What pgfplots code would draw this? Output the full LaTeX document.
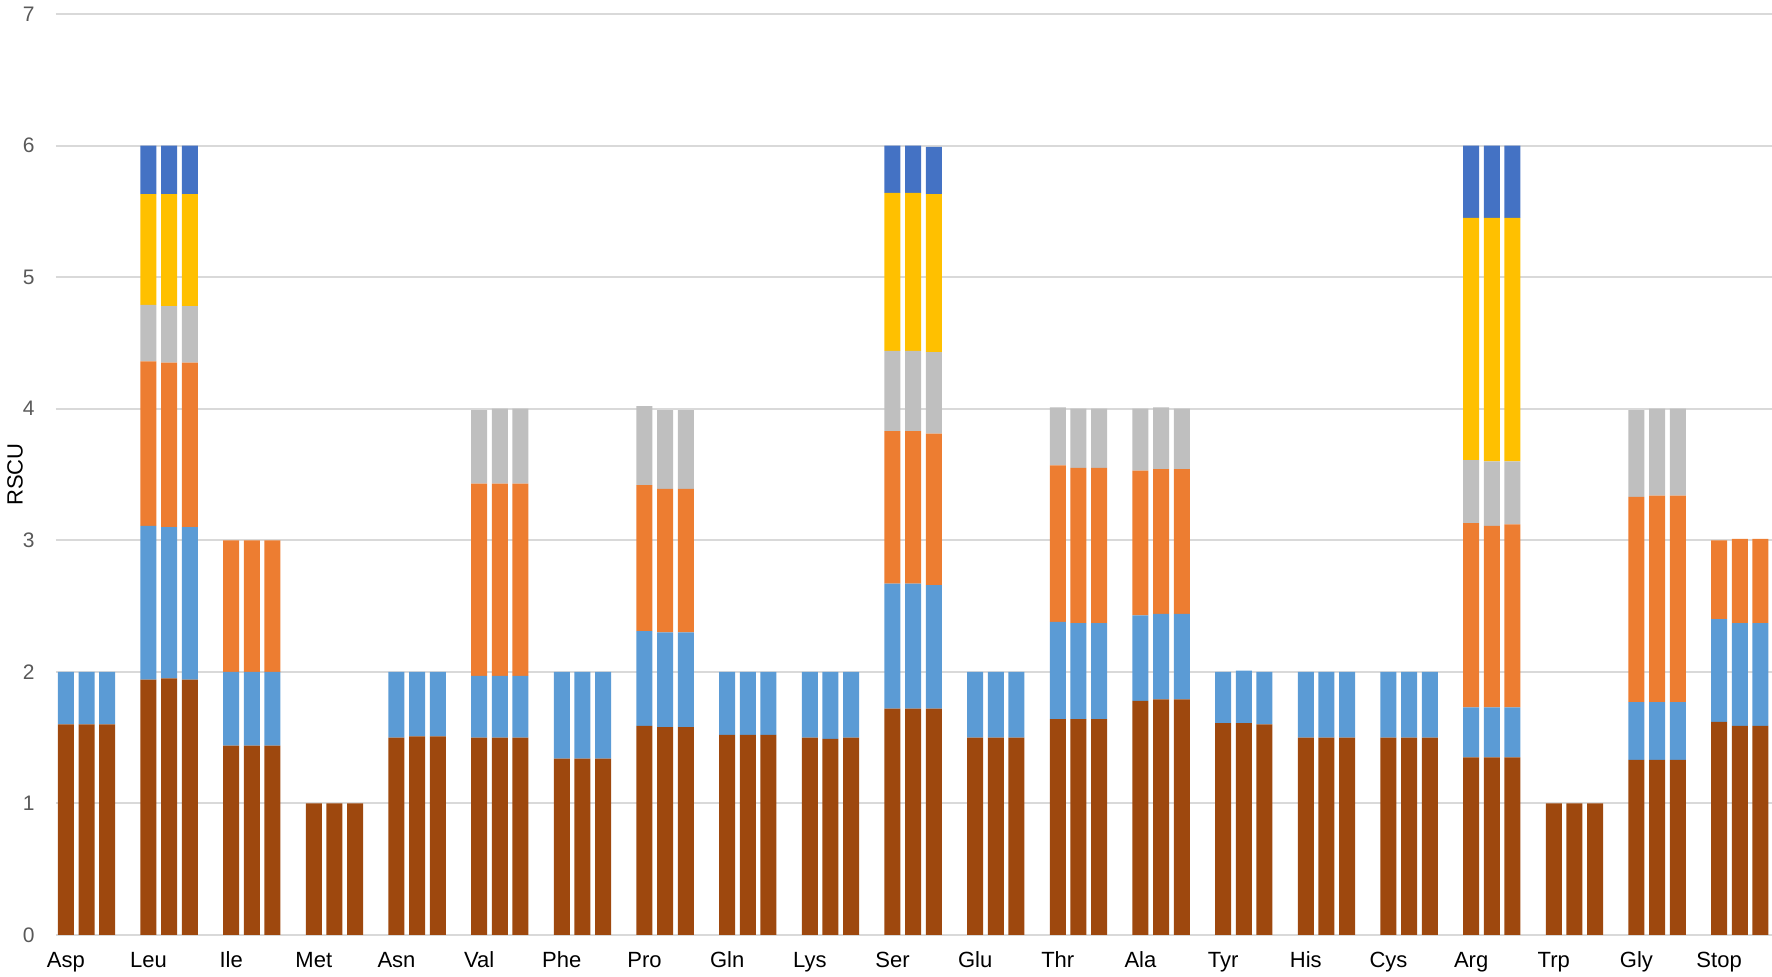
\documentclass[border=0pt]{standalone}
\usepackage{pgfplots}
\pgfplotsset{compat=1.18}
\usepackage{pgfplotstable}
\usepackage{fontspec}
\setmainfont{Liberation Sans}
\definecolor{cbrown}{HTML}{9E480E}
\definecolor{clblue}{HTML}{5B9BD5}
\definecolor{corange}{HTML}{ED7D31}
\definecolor{cgray}{HTML}{BFBFBF}
\definecolor{cyellow}{HTML}{FFC000}
\definecolor{cdblue}{HTML}{4472C4}
\definecolor{gridgray}{HTML}{D9D9D9}
\definecolor{tickgray}{HTML}{595959}
\pgfplotstableread{
x b lb o g y db
0 1.60 0.40 0 0 0 0
0.25 1.60 0.40 0 0 0 0
0.5 1.60 0.40 0 0 0 0
1 1.94 1.17 1.25 0.43 0.84 0.37
1.25 1.95 1.15 1.25 0.43 0.85 0.37
1.5 1.94 1.16 1.25 0.43 0.85 0.37
2 1.44 0.56 1.00 0 0 0
2.25 1.44 0.56 1.00 0 0 0
2.5 1.44 0.56 1.00 0 0 0
3 1.00 0 0 0 0 0
3.25 1.00 0 0 0 0 0
3.5 1.00 0 0 0 0 0
4 1.50 0.50 0 0 0 0
4.25 1.51 0.49 0 0 0 0
4.5 1.51 0.49 0 0 0 0
5 1.50 0.47 1.46 0.56 0 0
5.25 1.50 0.47 1.46 0.57 0 0
5.5 1.50 0.47 1.46 0.57 0 0
6 1.34 0.66 0 0 0 0
6.25 1.34 0.66 0 0 0 0
6.5 1.34 0.66 0 0 0 0
7 1.59 0.72 1.11 0.60 0 0
7.25 1.58 0.72 1.09 0.60 0 0
7.5 1.58 0.72 1.09 0.60 0 0
8 1.52 0.48 0 0 0 0
8.25 1.52 0.48 0 0 0 0
8.5 1.52 0.48 0 0 0 0
9 1.50 0.50 0 0 0 0
9.25 1.49 0.51 0 0 0 0
9.5 1.50 0.50 0 0 0 0
10 1.72 0.95 1.16 0.61 1.20 0.36
10.25 1.72 0.95 1.16 0.61 1.20 0.36
10.5 1.72 0.94 1.15 0.62 1.20 0.36
11 1.50 0.50 0 0 0 0
11.25 1.50 0.50 0 0 0 0
11.5 1.50 0.50 0 0 0 0
12 1.64 0.74 1.19 0.44 0 0
12.25 1.64 0.73 1.18 0.45 0 0
12.5 1.64 0.73 1.18 0.45 0 0
13 1.78 0.65 1.10 0.47 0 0
13.25 1.79 0.65 1.10 0.47 0 0
13.5 1.79 0.65 1.10 0.46 0 0
14 1.61 0.39 0 0 0 0
14.25 1.61 0.40 0 0 0 0
14.5 1.60 0.40 0 0 0 0
15 1.50 0.50 0 0 0 0
15.25 1.50 0.50 0 0 0 0
15.5 1.50 0.50 0 0 0 0
16 1.50 0.50 0 0 0 0
16.25 1.50 0.50 0 0 0 0
16.5 1.50 0.50 0 0 0 0
17 1.35 0.38 1.40 0.48 1.84 0.55
17.25 1.35 0.38 1.38 0.49 1.85 0.55
17.5 1.35 0.38 1.39 0.48 1.85 0.55
18 1.00 0 0 0 0 0
18.25 1.00 0 0 0 0 0
18.5 1.00 0 0 0 0 0
19 1.33 0.44 1.56 0.66 0 0
19.25 1.33 0.44 1.57 0.66 0 0
19.5 1.33 0.44 1.57 0.66 0 0
20 1.62 0.78 0.60 0 0 0
20.25 1.59 0.78 0.64 0 0 0
20.5 1.59 0.78 0.64 0 0 0
}\rscu
\begin{document}
\begin{tikzpicture}
\begin{axis}[
  at={(0,0)}, anchor=south west,
  scale only axis, width=858pt, height=460.5pt,
  xmin=-0.119, xmax=20.64, ymin=0, ymax=7,
  ybar stacked, bar width=8pt,
  axis line style={draw=none},
  tick style={draw=none},
  ymajorgrids, grid style={color=gridgray, line width=1pt},
  ytick={0,1,2,3,4,5,6,7},
  /pgf/number format/assume math mode=true,
  yticklabel style={font=\fontsize{10.5pt}{12pt}\selectfont, color=tickgray, anchor=east, inner sep=0pt, xshift=-10.5pt},
  xtick={0,1,2,3,4,5,6,7,8,9,10,11,12,13,14,15,16,17,18,19,20},
  xticklabels={Asp,Leu,Ile,Met,Asn,Val,Phe,Pro,Gln,Lys,Ser,Glu,Thr,Ala,Tyr,His,Cys,Arg,Trp,Gly,Stop},
  xticklabel style={font=\fontsize{11pt}{13pt}\selectfont, color=black, anchor=north, inner sep=0pt, yshift=-9pt, text height=0.72em, text depth=0.21em},
  ylabel={RSCU},
  every axis y label/.style={at={(axis description cs:-0.0239,0.5)}, rotate=90, anchor=center, font=\fontsize{11pt}{13pt}\selectfont},
  clip=false,
]
\addplot[fill=cbrown, draw=none] table[x=x, y=b] {\rscu};
\addplot[fill=clblue, draw=none] table[x=x, y=lb] {\rscu};
\addplot[fill=corange, draw=none] table[x=x, y=o] {\rscu};
\addplot[fill=cgray, draw=none] table[x=x, y=g] {\rscu};
\addplot[fill=cyellow, draw=none] table[x=x, y=y] {\rscu};
\addplot[fill=cdblue, draw=none] table[x=x, y=db] {\rscu};
\end{axis}
\pgfresetboundingbox
\path[use as bounding box] (-28pt,-21pt) rectangle (858pt,467.5pt);
\end{tikzpicture}
\end{document}
